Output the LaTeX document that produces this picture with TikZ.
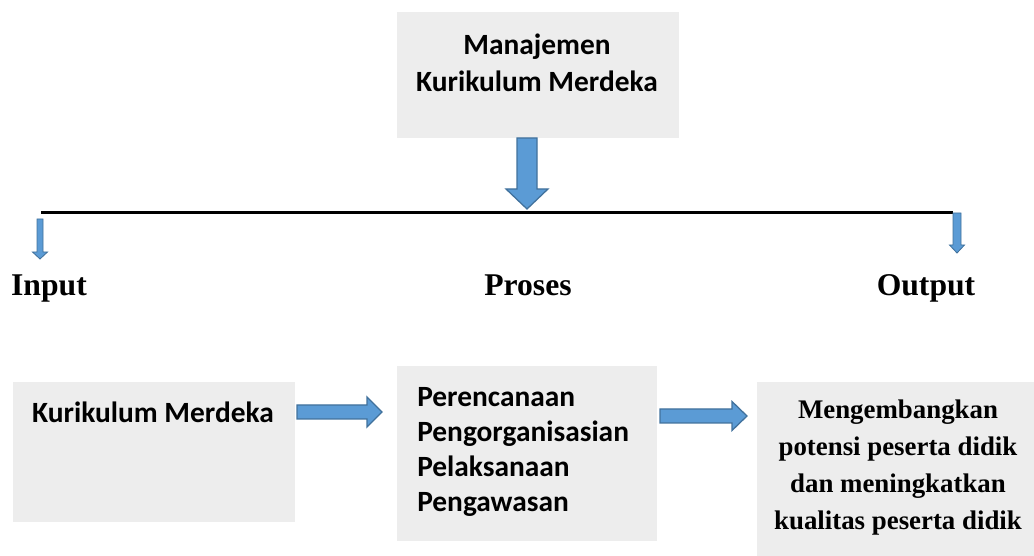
\documentclass[tikz,border=0pt]{standalone}
\usepackage{fontspec}
\setmainfont{Liberation Serif}
\newfontfamily\calibri{Carlito}
\usetikzlibrary{positioning}
\definecolor{boxgray}{RGB}{237,237,237}
\definecolor{arrowfill}{RGB}{91,155,213}
\definecolor{arrowedge}{RGB}{65,113,156}

\begin{document}
\begin{tikzpicture}[x=0.025cm, y=-0.025cm,
    box/.style={fill=boxgray, inner sep=0pt},
    blockarrow/.style={fill=arrowfill, draw=arrowedge, line width=0.9pt, line join=miter},
    calbold/.style={font=\calibri\bfseries\fontsize{20.9}{26.3}\selectfont, inner sep=0pt},
    timesbold/.style={font=\bfseries\fontsize{19.1}{26.3}\selectfont, inner sep=0pt},
    heading/.style={font=\bfseries\fontsize{22.5}{27}\selectfont, inner sep=0pt}]
    \useasboundingbox (0,0) rectangle (1034,556);

    % top box
    \node[box, minimum width=7.05cm, minimum height=3.15cm] (top) at (538,75) {};
    \node[calbold, align=center] (toptext) at (537,62.5) {Manajemen\\Kurikulum Merdeka};

    % line and its arrows
    \coordinate (lineL) at (41,212.5);
    \coordinate (lineR) at (953,212.5);
    \draw[line width=2.2pt] (lineL) -- (lineR);
    \coordinate (downtip) at (527,209);
    \draw[blockarrow] (downtip) -- ++(-21,-20) -- ++(11,0) -- ++(0,-51) -- ++(20,0) -- ++(0,51) -- ++(11,0) -- cycle;
    \coordinate (intip) at (40,259);
    \draw[blockarrow, line width=0.6pt] (intip) -- ++(-7.5,-7) -- ++(4.5,0) -- ++(0,-33) -- ++(6,0) -- ++(0,33) -- ++(4.5,0) -- cycle;
    \coordinate (outtip) at (957,253);
    \draw[blockarrow, line width=0.6pt] (outtip) -- ++(-7.5,-8) -- ++(3.5,0) -- ++(0,-32) -- ++(8,0) -- ++(0,32) -- ++(3.5,0) -- cycle;

    % labels
    \node[heading, anchor=base] (input) at (49,296) {Input};
    \node[heading, anchor=base] (proses) at (528,296) {Proses};
    \node[heading, anchor=base] (output) at (926,296) {Output};

    % bottom boxes
    \node[box, minimum width=7.05cm, minimum height=3.5cm] (kur) at (154,452) {};
    \node[calbold] (kurtext) at (153,412) {Kurikulum Merdeka};
    \node[box, minimum width=6.5cm, minimum height=4.375cm] (pros) at (527,453.5) {};
    \node[calbold, align=left, anchor=west, font=\calibri\bfseries\fontsize{20.9}{24.7}\selectfont] (prostext) at (417,452) {Perencanaan\\Pengorganisasian\\Pelaksanaan\\Pengawasan};
    \node[box, minimum width=6.925cm, minimum height=4.35cm] (out) at (895.5,469) {};
    \node[timesbold, align=center] (outtext) at (898,467.5) {Mengembangkan\\potensi peserta didik\\dan meningkatkan\\kualitas peserta didik};

    % arrows between boxes
    \coordinate (arrA) at (297,412);
    \draw[blockarrow] (arrA) -- ++(0,-7) -- ++(70,0) -- ++(0,-8) -- ++(15,15) -- ++(-15,15) -- ++(0,-8) -- ++(-70,0) -- cycle;
    \coordinate (arrB) at (660,416);
    \draw[blockarrow] (arrB) -- ++(0,-7) -- ++(72,0) -- ++(0,-7.5) -- ++(15,14.5) -- ++(-15,14.5) -- ++(0,-7.5) -- ++(-72,0) -- cycle;
\end{tikzpicture}
\end{document}
